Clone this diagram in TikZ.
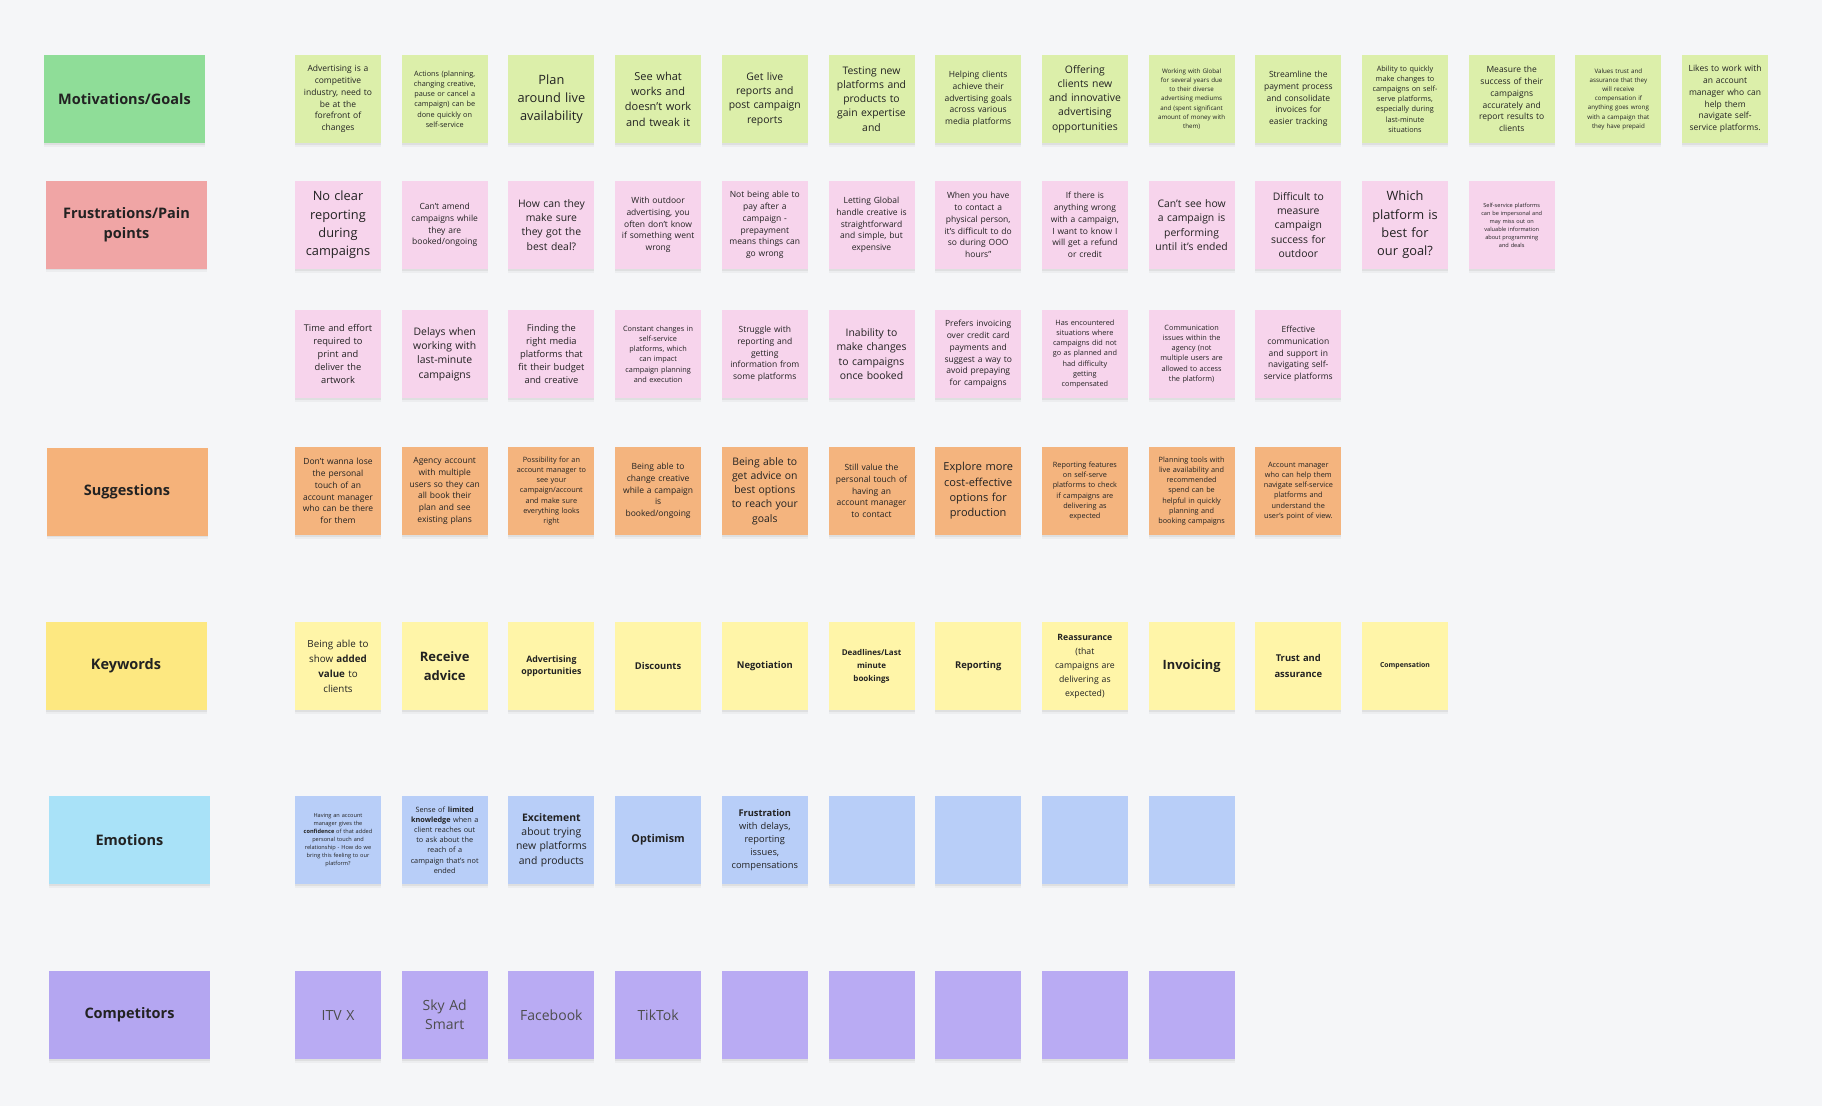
\documentclass[tikz,border=0pt]{standalone}
\usepackage{fontspec}
\setmainfont{Open Sans}
\usetikzlibrary{shadows}
\definecolor{bg}{HTML}{F5F6F8}
\definecolor{ink}{HTML}{222222}
\definecolor{inkC}{HTML}{4D4D4D}
\definecolor{labM}{HTML}{8FDD98}
\definecolor{noteM}{HTML}{DCEFAA}
\definecolor{labF}{HTML}{F0A5A5}
\definecolor{noteF}{HTML}{F7D4EC}
\definecolor{labS}{HTML}{F5B27A}
\definecolor{noteS}{HTML}{F4B47E}
\definecolor{labK}{HTML}{FDE881}
\definecolor{noteK}{HTML}{FFF5A8}
\definecolor{labE}{HTML}{A9E2F8}
\definecolor{noteE}{HTML}{B8CEF8}
\definecolor{labC}{HTML}{B4A6F1}
\definecolor{noteC}{HTML}{B9ABF3}
\tikzset{
  fs/.style 2 args={font=\fontsize{#1pt}{#2pt}\selectfont},
  fXL/.style={fs={12.8}{18.3}},
  fLone/.style={fs={11}{15.4}},
  fL/.style={fs={10.4}{14.2}},
  fMp/.style={fs={9.3}{13.2}},
  fM/.style={fs={8.5}{11.7}},
  fS/.style={fs={7.3}{10.2}},
  fXS/.style={fs={6.2}{9.2}},
  fXXS/.style={fs={5.6}{8}},
  shad/.style={drop shadow={shadow xshift=0pt,shadow yshift=-3.5pt,opacity=0.035,fill=black},
               drop shadow={shadow xshift=0pt,shadow yshift=-1.8pt,opacity=0.06,fill=black}},
  card/.style={minimum width=86pt,minimum height=88pt,inner sep=0pt,align=center,text width=80pt,text=ink,shad},
  nM/.style={card,fill=noteM},
  nF/.style={card,fill=noteF},
  nS/.style={card,fill=noteS},
  nK/.style={card,fill=noteK},
  nE/.style={card,fill=noteE},
  nC/.style={card,fill=noteC,text=inkC,fs={14}{19}},
  lab/.style={minimum width=161pt,minimum height=88pt,inner sep=0pt,align=center,text=ink,font=\fontsize{14.5}{20.5}\selectfont\bfseries,shad},
}
\begin{document}
\begin{tikzpicture}[x=1pt,y=-1pt]
\fill[bg] (0,0) rectangle (1822,1106);
\useasboundingbox (0,0) rectangle (1822,1106);

% ---- labels
\node[lab,fill=labM] (lm) at (124.5,99) {Motivations/Goals};
\node[lab,fill=labF] (lf) at (126.5,224.5) {Frustrations/Pain\\points};
\node[lab,fill=labS] (ls) at (127,491.5) {Suggestions};
\node[lab,fill=labK] (lk) at (126,666) {Keywords};
\node[lab,fill=labE] (le) at (129.5,840) {Emotions};
\node[lab,fill=labC] (lc) at (129.5,1015) {Competitors};

% ---- Motivations / Goals
\node[nM,fM] (m0) at (338,99) {Advertising is a\\competitive\\industry, need to\\be at the\\forefront of\\changes};
\node[nM,fS] (m1) at (444.7,99) {Actions (planning,\\changing creative,\\pause or cancel a\\campaign) can be\\done quickly on\\self-service};
\node[nM,fXL] (m2) at (551.4,99) {Plan\\around live\\availability};
\node[nM,fLone] (m3) at (658.1,99) {See what\\works and\\doesn’t work\\and tweak it};
\node[nM,fL] (m4) at (764.8,99) {Get live\\reports and\\post campaign\\reports};
\node[nM,fL] (m5) at (871.5,99) {Testing new\\platforms and\\products to\\gain expertise\\and};
\node[nM,fM] (m6) at (978.2,99) {Helping clients\\achieve their\\advertising goals\\across various\\media platforms};
\node[nM,fL] (m7) at (1084.9,99) {Offering\\clients new\\and innovative\\advertising\\opportunities};
\node[nM,fXS] (m8) at (1191.6,99) {Working with Global\\for several years due\\to their diverse\\advertising mediums\\and (spent significant\\amount of money with\\them)};
\node[nM,fM] (m9) at (1298.3,99) {Streamline the\\payment process\\and consolidate\\invoices for\\easier tracking};
\node[nM,fS] (m10) at (1405,99) {Ability to quickly\\make changes to\\campaigns on self-\\serve platforms,\\especially during\\last-minute\\situations};
\node[nM,fM] (m11) at (1511.7,99) {Measure the\\success of their\\campaigns\\accurately and\\report results to\\clients};
\node[nM,fXS] (m12) at (1618.4,99) {Values trust and\\assurance that they\\will receive\\compensation if\\anything goes wrong\\with a campaign that\\they have prepaid};
\node[nM,fM] (m13) at (1725.1,99) {Likes to work with\\an account\\manager who can\\help them\\navigate self-\\service platforms.};

% ---- Frustrations row 1
\node[nF,fXL] (f0) at (338,225) {No clear\\reporting\\during\\campaigns};
\node[nF,fM] (f1) at (444.7,225) {Can’t amend\\campaigns while\\they are\\booked/ongoing};
\node[nF,fL] (f2) at (551.4,225) {How can they\\make sure\\they got the\\best deal?};
\node[nF,fM] (f3) at (658.1,225) {With outdoor\\advertising, you\\often don’t know\\if something went\\wrong};
\node[nF,fM] (f4) at (764.8,225) {Not being able to\\pay after a\\campaign -\\prepayment\\means things can\\go wrong};
\node[nF,fM] (f5) at (871.5,225) {Letting Global\\handle creative is\\straightforward\\and simple, but\\expensive};
\node[nF,fM] (f6) at (978.2,225) {When you have\\to contact a\\physical person,\\it’s difficult to do\\so during OOO\\hours”};
\node[nF,fM] (f7) at (1084.9,225) {If there is\\anything wrong\\with a campaign,\\I want to know I\\will get a refund\\or credit};
\node[nF,fL] (f8) at (1191.6,225) {Can’t see how\\a campaign is\\performing\\until it’s ended};
\node[nF,fL] (f9) at (1298.3,225) {Difficult to\\measure\\campaign\\success for\\outdoor};
\node[nF,fXL] (f10) at (1405,225) {Which\\platform is\\best for\\our goal?};
\node[nF,fXXS] (f11) at (1511.7,225) {Self-service platforms\\can be impersonal and\\may miss out on\\valuable information\\about programming\\and deals};

% ---- Frustrations row 2
\node[nF,fMp] (g0) at (338,354) {Time and effort\\required to\\print and\\deliver the\\artwork};
\node[nF,fL] (g1) at (444.7,354) {Delays when\\working with\\last-minute\\campaigns};
\node[nF,fMp] (g2) at (551.4,354) {Finding the\\right media\\platforms that\\fit their budget\\and creative};
\node[nF,fS] (g3) at (658.1,354) {Constant changes in\\self-service\\platforms, which\\can impact\\campaign planning\\and execution};
\node[nF,fM] (g4) at (764.8,354) {Struggle with\\reporting and\\getting\\information from\\some platforms};
\node[nF,fL] (g5) at (871.5,354) {Inability to\\make changes\\to campaigns\\once booked};
\node[nF,fM] (g6) at (978.2,354) {Prefers invoicing\\over credit card\\payments and\\suggest a way to\\avoid prepaying\\for campaigns};
\node[nF,fS] (g7) at (1084.9,354) {Has encountered\\situations where\\campaigns did not\\go as planned and\\had difficulty\\getting\\compensated};
\node[nF,fS] (g8) at (1191.6,354) {Communication\\issues within the\\agency (not\\multiple users are\\allowed to access\\the platform)};
\node[nF,fM] (g9) at (1298.3,354) {Effective\\communication\\and support in\\navigating self-\\service platforms};

% ---- Suggestions
\node[nS,fM] (s0) at (338,491) {Don’t wanna lose\\the personal\\touch of an\\account manager\\who can be there\\for them};
\node[nS,fM] (s1) at (444.7,491) {Agency account\\with multiple\\users so they can\\all book their\\plan and see\\existing plans};
\node[nS,fS] (s2) at (551.4,491) {Possibility for an\\account manager to\\see your\\campaign/account\\and make sure\\everything looks\\right};
\node[nS,fM] (s3) at (658.1,491) {Being able to\\change creative\\while a campaign\\is\\booked/ongoing};
\node[nS,fL] (s4) at (764.8,491) {Being able to\\get advice on\\best options\\to reach your\\goals};
\node[nS,fM] (s5) at (871.5,491) {Still value the\\personal touch of\\having an\\account manager\\to contact};
\node[nS,fLone] (s6) at (978.2,491) {Explore more\\cost-effective\\options for\\production};
\node[nS,fS] (s7) at (1084.9,491) {Reporting features\\on self-serve\\platforms to check\\if campaigns are\\delivering as\\expected};
\node[nS,fS] (s8) at (1191.6,491) {Planning tools with\\live availability and\\recommended\\spend can be\\helpful in quickly\\planning and\\booking campaigns};
\node[nS,fS] (s9) at (1298.3,491) {Account manager\\who can help them\\navigate self-service\\platforms and\\understand the\\user’s point of view.};

% ---- Keywords
\node[nK,fs={9.8}{15}] (k0) at (338,666) {Being able to\\show \textbf{added}\\\textbf{value} to\\clients};
\node[nK,fs={13}{18.5}] (k1) at (444.7,666) {\textbf{Receive}\\\textbf{advice}};
\node[nK,fs={8.8}{12.5}] (k2) at (551.4,666) {\textbf{Advertising}\\\textbf{opportunities}};
\node[nK,fs={9.4}{13}] (k3) at (658.1,666) {\textbf{Discounts}};
\node[nK,fs={9.4}{13}] (k4) at (764.8,666) {\textbf{Negotiation}};
\node[nK,fs={8}{13}] (k5) at (871.5,666) {\textbf{Deadlines/Last}\\\textbf{minute}\\\textbf{bookings}};
\node[nK,fs={9.4}{13}] (k6) at (978.2,666) {\textbf{Reporting}};
\node[nK,fs={8.7}{14}] (k7) at (1084.9,666) {\textbf{Reassurance}\\(that\\campaigns are\\delivering as\\expected)};
\node[nK,fs={12.8}{17}] (k8) at (1191.6,666) {\textbf{Invoicing}};
\node[nK,fs={9.4}{15.7}] (k9) at (1298.3,666) {\textbf{Trust and}\\\textbf{assurance}};
\node[nK,fs={6.9}{10}] (k10) at (1405,666) {\textbf{Compensation}};

% ---- Emotions
\node[nE,fXXS] (e0) at (338,840) {Having an account\\manager gives the\\\textbf{confidence} of that added\\personal touch and\\relationship - How do we\\bring this feeling to our\\platform?};
\node[nE,fS] (e1) at (444.7,840) {Sense of \textbf{limited}\\\textbf{knowledge} when a\\client reaches out\\to ask about the\\reach of a\\campaign that’s not\\ended};
\node[nE,fL] (e2) at (551.4,840) {\textbf{Excitement}\\about trying\\new platforms\\and products};
\node[nE,fs={10.8}{14}] (e3) at (658.1,840) {\textbf{Optimism}};
\node[nE,fMp] (e4) at (764.8,840) {\textbf{Frustration}\\with delays,\\reporting\\issues,\\compensations};
\node[nE] (e5) at (871.5,840) {};
\node[nE] (e6) at (978.2,840) {};
\node[nE] (e7) at (1084.9,840) {};
\node[nE] (e8) at (1191.6,840) {};

% ---- Competitors
\node[nC] (c0) at (338,1015) {ITV X};
\node[nC] (c1) at (444.7,1015) {Sky Ad\\Smart};
\node[nC] (c2) at (551.4,1015) {Facebook};
\node[nC] (c3) at (658.1,1015) {TikTok};
\node[nC] (c4) at (764.8,1015) {};
\node[nC] (c5) at (871.5,1015) {};
\node[nC] (c6) at (978.2,1015) {};
\node[nC] (c7) at (1084.9,1015) {};
\node[nC] (c8) at (1191.6,1015) {};
\end{tikzpicture}
\end{document}
